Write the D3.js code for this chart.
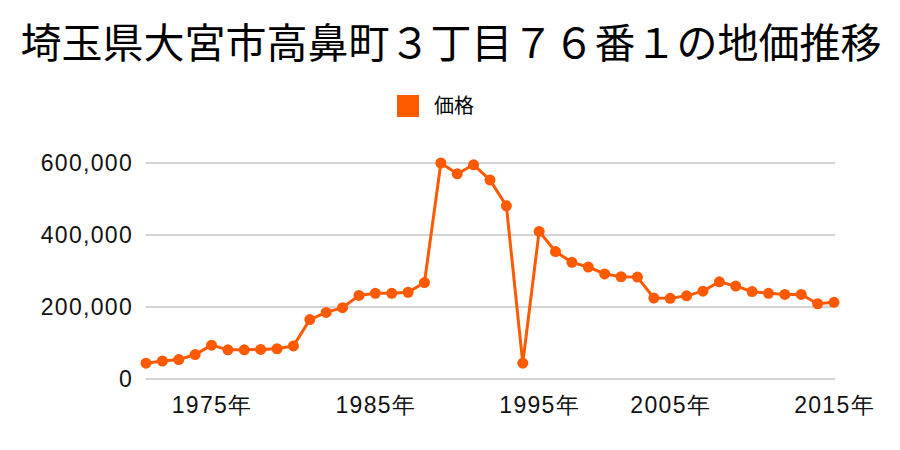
<html>
  <head>
    <meta charset="utf-8">
    <script src="https://cdnjs.cloudflare.com/ajax/libs/d3/7.8.5/d3.min.js"></script>
    <style>
    body { margin: 0; background: white; }
    svg { font-family: "Noto Sans CJK JP", "Noto Sans", sans-serif; }
    .grid line { stroke: #aaaaaa; stroke-width: 1; }
    .axis text { fill: #111; font-size: 23px; letter-spacing: 1.3px; }
    </style>
  </head>
  <body>
    <svg width="900" height="450" id="chart"></svg>
    <script>
    var title = '埼玉県大宮市高鼻町３丁目７６番１の地価推移';
    var seriesName = '価格';
    var years = [1971, 1972, 1973, 1974, 1975, 1976, 1977, 1978, 1979, 1980,
                 1981, 1982, 1983, 1984, 1985, 1986, 1987, 1988, 1989, 1990,
                 1991, 1992, 1993, 1994, 1995, 1996, 1999, 2000, 2001, 2002,
                 2003, 2004, 2005, 2006, 2007, 2008, 2009, 2010, 2011, 2012,
                 2013, 2014, 2015];
    var prices = [44000, 50000, 54000, 68000, 94000, 81000, 81000, 82000, 84000, 92000,
                  165000, 185000, 198000, 232000, 238000, 238000, 241000, 268000, 600000, 570000,
                  595000, 553000, 481000, 44000, 410000, 354000, 324000, 311000, 292000, 284000,
                  283000, 225000, 224000, 231000, 244000, 270000, 258000, 243000, 238000, 235000,
                  235000, 209000, 213000];
    var yTicks = [0, 200000, 400000, 600000];
    var xLabels = [1975, 1985, 1995, 2005, 2015];

    var svg = d3.select('#chart');
    var color = '#ff5a00';

    var x = d3.scalePoint().domain(years).range([146, 834]);
    var y = d3.scaleLinear().domain([0, 600000]).range([379, 163]);

    svg.append('text')
      .attr('x', 451).attr('y', 58)
      .attr('text-anchor', 'middle')
      .style('font-size', '41px')
      .text(title);

    var legend = svg.append('g');
    legend.append('rect')
      .attr('x', 397).attr('y', 95).attr('width', 22).attr('height', 22)
      .attr('fill', color);
    legend.append('text')
      .attr('x', 434).attr('y', 113)
      .style('font-size', '20px')
      .text(seriesName);

    svg.append('g').attr('class', 'grid')
      .selectAll('line').data(yTicks).enter().append('line')
      .attr('x1', 146).attr('x2', 835)
      .attr('y1', function(d) { return y(d); })
      .attr('y2', function(d) { return y(d); });

    var yAxis = svg.append('g').attr('class', 'axis')
      .attr('transform', 'translate(146,0)')
      .call(d3.axisLeft(y).tickValues(yTicks).tickSize(0).tickPadding(13)
        .tickFormat(d3.format(',')));
    yAxis.select('.domain').remove();

    var xAxis = svg.append('g').attr('class', 'axis')
      .attr('transform', 'translate(0,379)')
      .call(d3.axisBottom(x).tickValues(xLabels).tickSize(0).tickPadding(0)
        .tickFormat(function(d) { return d + '年'; }));
    xAxis.select('.domain').remove();
    xAxis.selectAll('text').attr('y', 34).attr('dy', null);

    var line = d3.line()
      .x(function(d, i) { return x(years[i]); })
      .y(function(d) { return y(d); });

    svg.append('path')
      .datum(prices)
      .attr('d', line)
      .attr('fill', 'none')
      .attr('stroke', color)
      .attr('stroke-width', 3);

    svg.append('g').selectAll('circle')
      .data(prices).enter().append('circle')
      .attr('cx', function(d, i) { return x(years[i]); })
      .attr('cy', function(d) { return y(d); })
      .attr('r', 5.5)
      .attr('fill', color);
    </script>
  </body>
</html>
